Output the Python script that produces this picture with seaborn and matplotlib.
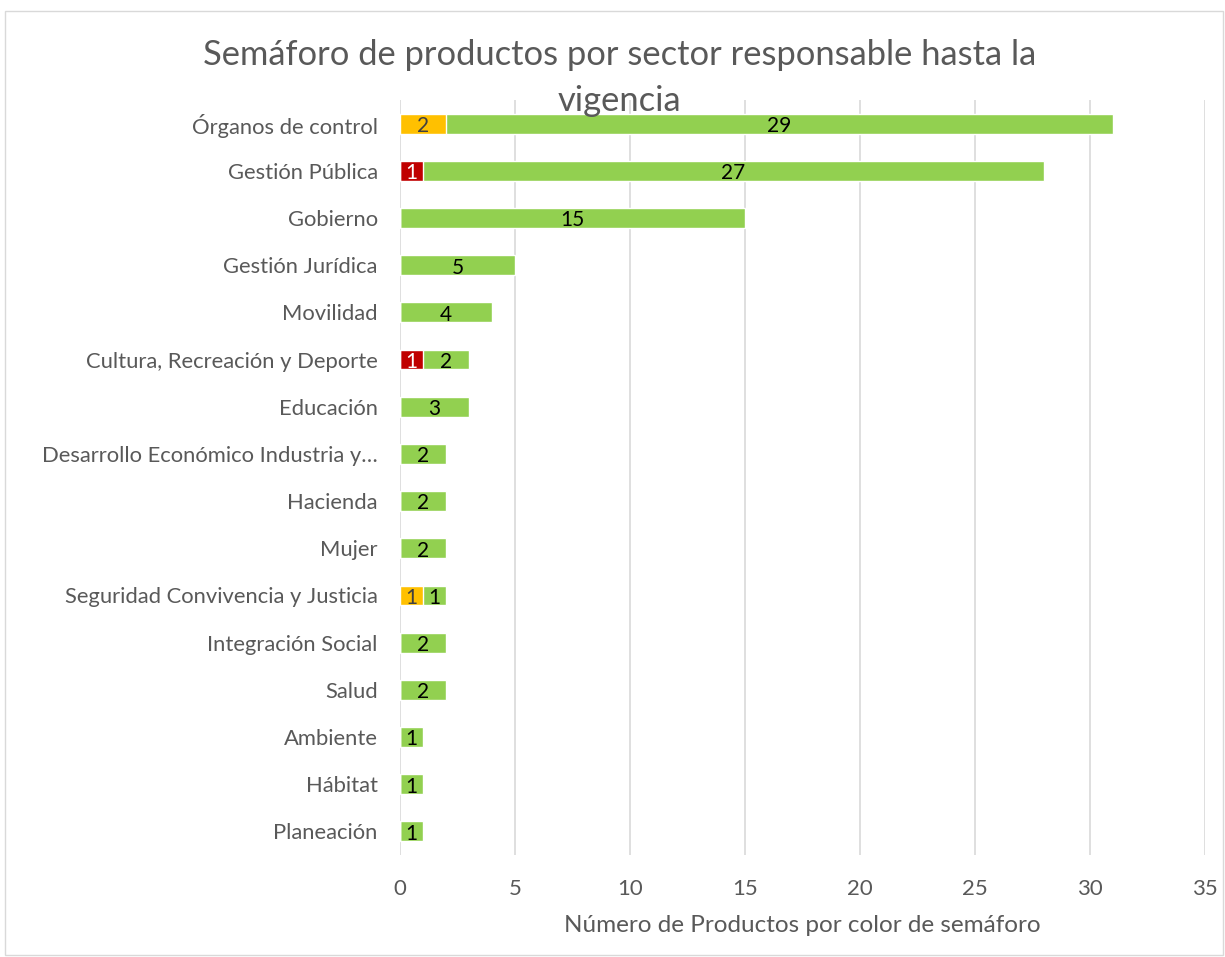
import matplotlib
matplotlib.use("Agg")
import matplotlib.pyplot as plt
import seaborn as sns
import pandas as pd
from matplotlib.patches import Rectangle

# datos del semáforo
sectores = ["Órganos de control", "Gestión Pública", "Gobierno", "Gestión Jurídica",
            "Movilidad", "Cultura, Recreación y Deporte", "Educación",
            "Desarrollo Económico Industria y…", "Hacienda", "Mujer",
            "Seguridad Convivencia y Justicia", "Integración Social", "Salud",
            "Ambiente", "Hábitat", "Planeación"]
rojo = [0, 1, 0, 0, 0, 1, 0, 0, 0, 0, 0, 0, 0, 0, 0, 0]
amarillo = [2, 0, 0, 0, 0, 0, 0, 0, 0, 0, 1, 0, 0, 0, 0, 0]
verde = [29, 27, 15, 5, 4, 2, 3, 2, 2, 2, 1, 2, 2, 1, 1, 1]

df = pd.DataFrame({"sector": sectores, "rojo": rojo, "amarillo": amarillo, "verde": verde})
df["inicio"] = df["rojo"] + df["amarillo"]
df["total"] = df["inicio"] + df["verde"]

c_rojo = "#C00000"
c_amarillo = "#FFC000"
c_verde = "#92D050"

sns.set_style("white")
plt.rcParams["font.family"] = ["Lato", "DejaVu Sans"]

fig = plt.figure(figsize=(12.25, 9.57), dpi=100)
ax = fig.add_axes([0.3265, 0.1066, 0.6572, 0.7889])

# barras apiladas: total en verde, luego el primer segmento encima
sns.barplot(data=df, x="total", y="sector", orient="h", color=c_verde,
            width=0.42, saturation=1, ax=ax)
sns.barplot(data=df, x="rojo", y="sector", orient="h", color=c_rojo,
            width=0.42, saturation=1, ax=ax)
sns.barplot(data=df, x="amarillo", y="sector", orient="h", color=c_amarillo,
            width=0.42, saturation=1, ax=ax)

# etiquetas de datos
for i, row in df.iterrows():
    if row["rojo"] > 0:
        ax.text(row["rojo"] / 2, i + 0.05, str(row["rojo"]), ha="center", va="center",
                color="white", fontsize=15)
    if row["amarillo"] > 0:
        ax.text(row["amarillo"] / 2, i + 0.05, str(row["amarillo"]), ha="center",
                va="center", color="#404040", fontsize=15)
    if row["verde"] > 0:
        ax.text((row["inicio"] + row["total"]) / 2, i + 0.05, str(row["verde"]),
                ha="center", va="center", color="black", fontsize=15)

ax.set_xlim(0, 35)
ax.set_ylim(15.5, -0.5)
ax.set_xticks(range(0, 36, 5))
ax.grid(axis="x", color="#D9D9D9", linewidth=1.2)
ax.set_axisbelow(True)
for s in ax.spines.values():
    s.set_visible(False)
ax.tick_params(axis="both", length=0, labelcolor="#595959")
ax.tick_params(axis="y", pad=16, labelsize=15.8)
ax.tick_params(axis="x", pad=17, labelsize=16)
ax.set_ylabel("")
ax.set_xlabel("Número de Productos por color de semáforo", fontsize=17.5,
              color="#595959", labelpad=12)

# título en dos líneas (la segunda invade el área del gráfico, como en el original)
fig.text(0.506, 0.926, "Semáforo de productos por sector responsable hasta la",
         ha="center", va="bottom", fontsize=24.8, color="#595959")
fig.text(0.506, 0.878, "vigencia",
         ha="center", va="bottom", fontsize=24.8, color="#595959")

fig.patches.append(Rectangle((0.004, 0.002), 0.994, 0.987, transform=fig.transFigure,
                             fill=False, edgecolor="#D9D9D9", linewidth=1))

fig.savefig("out.png", dpi=100)
